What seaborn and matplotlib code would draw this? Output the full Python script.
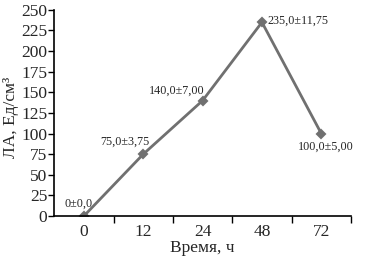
import matplotlib
matplotlib.use("Agg")
import matplotlib.pyplot as plt
import seaborn as sns
import pandas as pd
from matplotlib.ticker import FixedLocator

times = ["0", "12", "24", "48", "72"]
values = [0, 75, 140, 235, 100]
labels = ["0±0,0", "75,0±3,75", "140,0±7,00", "235,0±11,75", "100,0±5,00"]
yticks = [0, 25, 50, 75, 100, 125, 150, 175, 200, 225, 250]

sns.set_theme(style="ticks")
plt.rcParams['font.family'] = ['Liberation Serif', 'DejaVu Serif']

df = pd.DataFrame({"time": times, "val": values})

fig = plt.figure(figsize=(3.66, 2.6), dpi=100)
ax = fig.add_axes([0.148, 0.169, 0.811, 0.793])
sns.pointplot(data=df, x="time", y="val", order=times, color="#707070",
              markers="D", markersize=4.5, linewidth=2, ax=ax, errorbar=None)

ax.set_xlim(-0.5, 4.5)
ax.set_ylim(0, 250)
ax.set_yticks(yticks)
ax.set_yticklabels([str(v) for v in yticks], fontsize=12.5)
ax.set_xticks(range(len(times)))
ax.set_xticklabels(times, fontsize=12.5)
ax.tick_params(axis='x', which='major', length=0, pad=6)
ax.xaxis.set_minor_locator(FixedLocator([0.5, 1.5, 2.5, 3.5, 4.5]))
ax.tick_params(axis='x', which='minor', length=5, width=1, color='black', direction='out')
ax.tick_params(axis='y', length=4, width=1, color='black', pad=1)
for s in ['left', 'bottom']:
    ax.spines[s].set_color('black')
    ax.spines[s].set_linewidth(1.2)
sns.despine(ax=ax)

ax.set_xlabel("Время, ч", fontsize=12.5, labelpad=0)
ax.set_ylabel("ЛА, Ед/см³", fontsize=12.5, va="center")
ax.yaxis.set_label_coords(-0.145, 0.48)

offsets = [(-5, 12), (-18, 12), (-26, 10), (5, 2), (4, -13)]
has = ["center", "center", "center", "left", "center"]
for i, (lab, off, ha) in enumerate(zip(labels, offsets, has)):
    ax.annotate(lab, (i, values[i]), xytext=off, textcoords="offset pixels",
                ha=ha, va="center", fontsize=8.7)

fig.savefig("out.png", dpi=100)
